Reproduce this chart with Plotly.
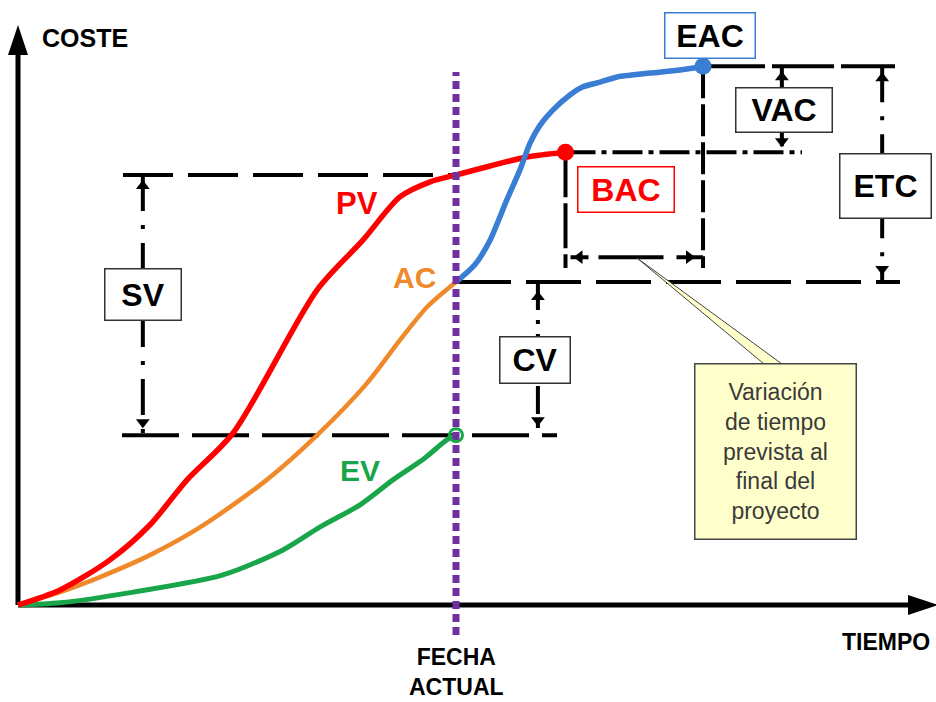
import plotly.graph_objects as go

# ---------------- data (time units, cost units) ----------------
t_pv = [0, 9.6, 21.0, 30.1, 38.6, 49.1, 68.3, 78.8, 87.2, 94.1, 100, 107.8, 116.2, 125.0]
pv = [0, 3.5, 10.5, 18.6, 29.1, 40.0, 73.3, 84.9, 94.9, 98.4, 100, 102.1, 104.2, 105.3]

t_ac = [0, 9.6, 18.7, 30.1, 41.6, 56.8, 68.3, 79.7, 87.2, 93.4, 100]
ac = [0, 3.0, 6.5, 11.6, 18.1, 29.1, 39.5, 51.6, 61.6, 69.3, 75.1]

t_ev = [0, 9.6, 26.3, 46.8, 60.5, 68.9, 78.1, 85.6, 92.9, 97.9, 100]
ev = [0, 0.5, 3.0, 7.0, 12.8, 18.1, 23.3, 29.1, 34.2, 38.4, 39.5]

t_eac = [100, 104.3, 107.8, 111.6, 114.6, 116.9, 119.2, 122.1, 126.0, 129.0, 132.9, 136.8, 144.3, 151.1, 156.4]
eac_curve = [75.1, 79.1, 84.9, 94.2, 101.2, 107.4, 111.6, 115.1, 118.6, 120.5, 121.6, 122.8, 123.7, 124.4, 125.3]

callout_lines = ["Variación", "de tiempo", "prevista al", "final del", "proyecto"]

# key values derived from the series
T_NOW = t_ac[-1]
PV_NOW = pv[t_pv.index(T_NOW)]
AC_NOW = ac[-1]
EV_NOW = ev[-1]
BAC_T, BAC = t_pv[-1], pv[-1]
EAC_T, EAC = t_eac[-1], eac_curve[-1]

# ---------------- layout constants ----------------
W, H = 936, 702
X0PX, Y0PX = 18, 605          # pixel position of the origin
SX, SY = 4.38, 4.3            # pixels per data unit


def dx(p):
    return p / SX


def dy(p):
    return p / SY


X_RANGE = [-X0PX / SX, (W - X0PX) / SX]
Y_RANGE = [-(H - Y0PX) / SY, Y0PX / SY]

RED = "#FF0000"
ORANGE = "#F0892A"
GREEN = "#19A64A"
BLUE = "#3A7DD4"
PURPLE = "#7030A0"
FONT = "Liberation Sans, Arial, sans-serif"

SV_X, CV_X, VAC_X, ETC_X = 28.5, 118.7, 174.4, 197.3
H_ARROW_Y = 80.9
V_END = 78.4

fig = go.Figure()


def seg(xs, ys, dash="solid", width=4, color="black"):
    fig.add_trace(go.Scatter(x=xs, y=ys, mode="lines",
                             line=dict(color=color, width=width, dash=dash),
                             hoverinfo="skip", showlegend=False))


def heads(xs, ys, symbols, size=12):
    fig.add_trace(go.Scatter(x=xs, y=ys, mode="markers",
                             marker=dict(symbol=symbols, size=size, color="black"),
                             hoverinfo="skip", showlegend=False))


# axes
seg([0, 0], [0, dy(605 - 50)], width=5)
seg([0, dx(912 - 18)], [0, 0], width=5)

# reference (dashed) lines
seg([dx(123 - 18), T_NOW], [PV_NOW, PV_NOW], dash="50px,15px")
seg([dx(122 - 18), dx(557 - 18)], [EV_NOW, EV_NOW], dash="57px,13px")
seg([T_NOW, dx(900 - 18)], [AC_NOW, AC_NOW], dash="55px,15px")
seg([EAC_T, dx(895 - 18)], [EAC, EAC], dash="62px,7px")
seg([BAC_T, dx(802 - 18)], [BAC, BAC], dash="30px,6px,5px,6px")
seg([BAC_T, BAC_T], [BAC, V_END], dash="45px,6px")
seg([EAC_T, EAC_T], [EAC, V_END], dash="32px,6px")

# dimension lines
seg([SV_X, SV_X], [PV_NOW, EV_NOW], dash="36px,14px,4px,14px")
seg([CV_X, CV_X], [AC_NOW, EV_NOW], dash="28px,10px,4px,10px")
seg([VAC_X, VAC_X], [EAC, BAC], dash="30px,8px,4px,8px")
seg([ETC_X, ETC_X], [EAC, AC_NOW], dash="36px,14px,4px,14px")
seg([BAC_T, EAC_T], [H_ARROW_Y, H_ARROW_Y], dash="0px,5px,18px,10px,65px,13px,30px")

heads([SV_X, SV_X, CV_X, CV_X, VAC_X, VAC_X, ETC_X, ETC_X,
       BAC_T + dx(14), EAC_T - dx(14)],
      [PV_NOW - dy(11), EV_NOW + dy(13), AC_NOW - dy(15), EV_NOW + dy(15),
       EAC - dy(11), BAC + dy(11), EAC - dy(12), AC_NOW + dy(13),
       H_ARROW_Y, H_ARROW_Y],
      ["triangle-up", "triangle-down", "triangle-up", "triangle-down",
       "triangle-up", "triangle-down", "triangle-up", "triangle-down",
       "triangle-left", "triangle-right"])

# curves
fig.add_trace(go.Scatter(x=t_ev, y=ev, mode="lines", line=dict(color=GREEN, width=5, shape="spline", smoothing=0.8),
                         hoverinfo="skip", showlegend=False))
fig.add_trace(go.Scatter(x=t_ac, y=ac, mode="lines", line=dict(color=ORANGE, width=4.5, shape="spline", smoothing=0.8),
                         hoverinfo="skip", showlegend=False))
fig.add_trace(go.Scatter(x=t_pv, y=pv, mode="lines", line=dict(color=RED, width=5.5, shape="spline", smoothing=0.8),
                         hoverinfo="skip", showlegend=False))
fig.add_trace(go.Scatter(x=t_eac, y=eac_curve, mode="lines", line=dict(color=BLUE, width=5.5, shape="spline", smoothing=0.7),
                         hoverinfo="skip", showlegend=False))

# current date
seg([T_NOW, T_NOW], [dy(605 - 635), dy(605 - 72)], dash="8px,5px", width=7, color=PURPLE)

# end markers
fig.add_trace(go.Scatter(x=[BAC_T], y=[BAC], mode="markers", marker=dict(size=17, color=RED),
                         hoverinfo="skip", showlegend=False))
fig.add_trace(go.Scatter(x=[EAC_T], y=[EAC], mode="markers", marker=dict(size=17, color=BLUE),
                         hoverinfo="skip", showlegend=False))
fig.add_trace(go.Scatter(x=[T_NOW], y=[EV_NOW], mode="markers",
                         marker=dict(size=13, color="rgba(0,0,0,0)", line=dict(color=GREEN, width=3)),
                         hoverinfo="skip", showlegend=False))

shapes = [
    # y-axis arrow head
    dict(type="path", xref="x", yref="y",
         path=f"M {-dx(10)},{dy(605 - 55)} L {dx(10)},{dy(605 - 55)} L 0,{dy(605 - 25)} Z",
         fillcolor="black", line=dict(width=0)),
    # x-axis arrow head
    dict(type="path", xref="x", yref="y",
         path=f"M {dx(908 - 18)},{-dy(10)} L {dx(908 - 18)},{dy(10)} L {dx(938 - 18)},0 Z",
         fillcolor="black", line=dict(width=0)),
    # callout pointer
    dict(type="path", xref="x", yref="y",
         path=f"M {dx(637 - 18)},{dy(605 - 258)} L {dx(764 - 18)},{dy(605 - 364)} "
              f"L {dx(782 - 18)},{dy(605 - 364)} Z",
         fillcolor="#FFFFCC", line=dict(color="#444444", width=1)),
]


def box(x, y, text, w, h, color="black", border="#333333", size=32):
    return dict(x=x, y=y, xref="x", yref="y", text=f"<b>{text}</b>", showarrow=False,
                width=w, height=h, bgcolor="white", bordercolor=border, borderwidth=1.5, borderpad=0,
                font=dict(family=FONT, size=size, color=color), xanchor="center", yanchor="middle")


annotations = [
    box(SV_X, dy(605 - 294), "SV", 75, 50),
    box(dx(535 - 18), dy(605 - 360), "CV", 69, 45),
    box(dx(784 - 18), dy(605 - 110), "VAC", 95, 43),
    box(dx(885 - 18), dy(605 - 186), "ETC", 90, 63),
    box(dx(710 - 18), dy(605 - 35.5), "EAC", 89, 44, border=BLUE),
    box(dx(626 - 18), dy(605 - 189.5), "BAC", 95, 44, color=RED, border=RED),
    dict(x=dx(775.5 - 18), y=dy(605 - 451.5), xref="x", yref="y",
         text="<br>".join(callout_lines), showarrow=False, width=160, height=174,
         bgcolor="#FFFFCC", bordercolor="#444444", borderwidth=1.5, borderpad=0,
         font=dict(family=FONT, size=23, color="#3a3a3a"), xanchor="center", yanchor="middle"),
    dict(x=dx(357 - 18), y=dy(605 - 203), xref="x", yref="y", text="<b>PV</b>", showarrow=False,
         font=dict(family=FONT, size=31, color=RED)),
    dict(x=dx(414 - 18), y=dy(605 - 277), xref="x", yref="y", text="<b>AC</b>", showarrow=False,
         font=dict(family=FONT, size=30, color=ORANGE)),
    dict(x=dx(360 - 18), y=dy(605 - 470), xref="x", yref="y", text="<b>EV</b>", showarrow=False,
         font=dict(family=FONT, size=30, color=GREEN)),
    dict(x=40 / W, y=1 - 38 / H, xref="paper", yref="paper", text="<b>COSTE</b>", showarrow=False,
         xanchor="left", yanchor="middle", font=dict(family=FONT, size=25, color="black")),
    dict(x=840 / W, y=1 - 642 / H, xref="paper", yref="paper", text="<b>TIEMPO</b>", showarrow=False,
         xanchor="left", yanchor="middle", font=dict(family=FONT, size=23, color="black")),
    dict(x=T_NOW, y=1 - 672 / H, xref="x", yref="paper", text="<b>FECHA<br>ACTUAL</b>", showarrow=False,
         xanchor="center", yanchor="middle", font=dict(family=FONT, size=23, color="black")),
]

fig.update_layout(
    width=W, height=H, margin=dict(l=0, r=0, t=0, b=0),
    paper_bgcolor="white", plot_bgcolor="white",
    xaxis=dict(range=X_RANGE, visible=False, fixedrange=True),
    yaxis=dict(range=Y_RANGE, visible=False, fixedrange=True),
    shapes=shapes, annotations=annotations, showlegend=False,
)

fig.write_html("out.html", config={"displayModeBar": False},
               post_script="document.body.style.margin='0px';document.body.style.overflow='hidden';")
